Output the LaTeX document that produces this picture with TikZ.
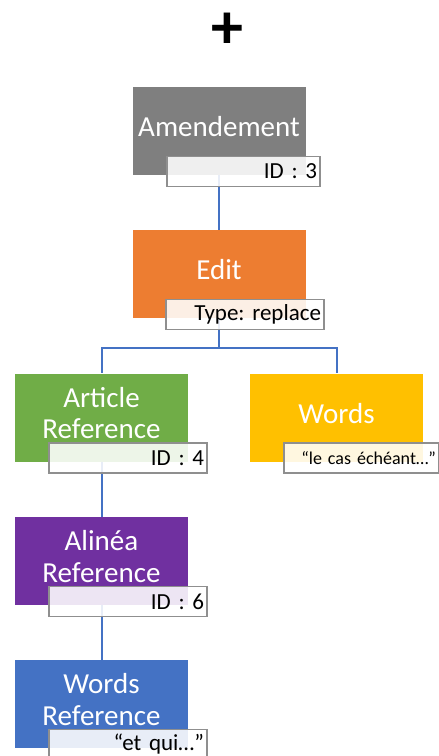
\documentclass[tikz,border=0pt]{standalone}
\usepackage{fontspec}
\setmainfont{Carlito}[WordSpace=0.8]
\usetikzlibrary{positioning}
\definecolor{amendgray}{HTML}{7F7F7F}
\definecolor{editorange}{HTML}{ED7D31}
\definecolor{artgreen}{HTML}{70AD47}
\definecolor{wordsyellow}{HTML}{FFC000}
\definecolor{alineapurple}{HTML}{7030A0}
\definecolor{refblue}{HTML}{4472C4}
\definecolor{taggray}{HTML}{8F8F8F}
\frenchspacing
\tikzset{
	mainbox/.style={minimum width=173pt, minimum height=88pt, inner sep=0pt, text depth=9pt, text=white, align=center, font=\fontsize{29}{31.5}\selectfont},
	tagbox/.style={draw=taggray, line width=1.2pt, fill=white, fill opacity=0.88, text opacity=1, minimum height=30pt, inner xsep=3pt, inner ysep=0pt, text width=152pt, align=right, font=\fontsize{23}{26}\selectfont},
	link/.style={draw=refblue, line width=2pt}
}

\begin{document}
\begin{tikzpicture}[x=1pt, y=-1pt]
		\useasboundingbox (0,0) rectangle (439,756);

		\node (plus) at (227,31) {\fontsize{64}{64}\selectfont\bfseries +};

		\node (amend)[mainbox, fill=amendgray] at (219,131) {Amendement};
		\node (edit)[mainbox, fill=editorange] at (219,274) {Edit};
		\node (article)[mainbox, fill=artgreen] at (101.5,417.5) {Article\\Reference};
		\node (words)[mainbox, fill=wordsyellow] at (336.5,417.5) {Words};
		\node (alinea)[mainbox, fill=alineapurple] at (101.5,561) {Alinéa\\Reference};
		\node (wordsref)[mainbox, fill=refblue] at (101.5,704) {Words\\Reference};

		\coordinate (fork) at (219,348);
		\draw [link](amend.south) -- (edit.north);
		\draw [link](edit.south) -- (fork);
		\draw [link](fork) -| (article.north);
		\draw [link](fork) -| (words.north);
		\draw [link](article.south) -- (alinea.north);
		\draw [link](alinea.south) -- (wordsref.north);

		\node (idamend)[tagbox, text width=147pt] at (243.5,171.5) {ID : 3};
		\node (type)[tagbox] at (245,314.5) {Type: replace};
		\node (idart)[tagbox] at (128,458) {ID : 4};
		\node (cas)[tagbox, text width=149pt, font=\fontsize{18}{22}\selectfont] at (361.5,458) {“le cas échéant…”};
		\node (idalinea)[tagbox] at (128,601.5) {ID : 6};
		\node (etqui)[tagbox] at (128,744.5) {“et qui…”};
	\end{tikzpicture}
\end{document}
